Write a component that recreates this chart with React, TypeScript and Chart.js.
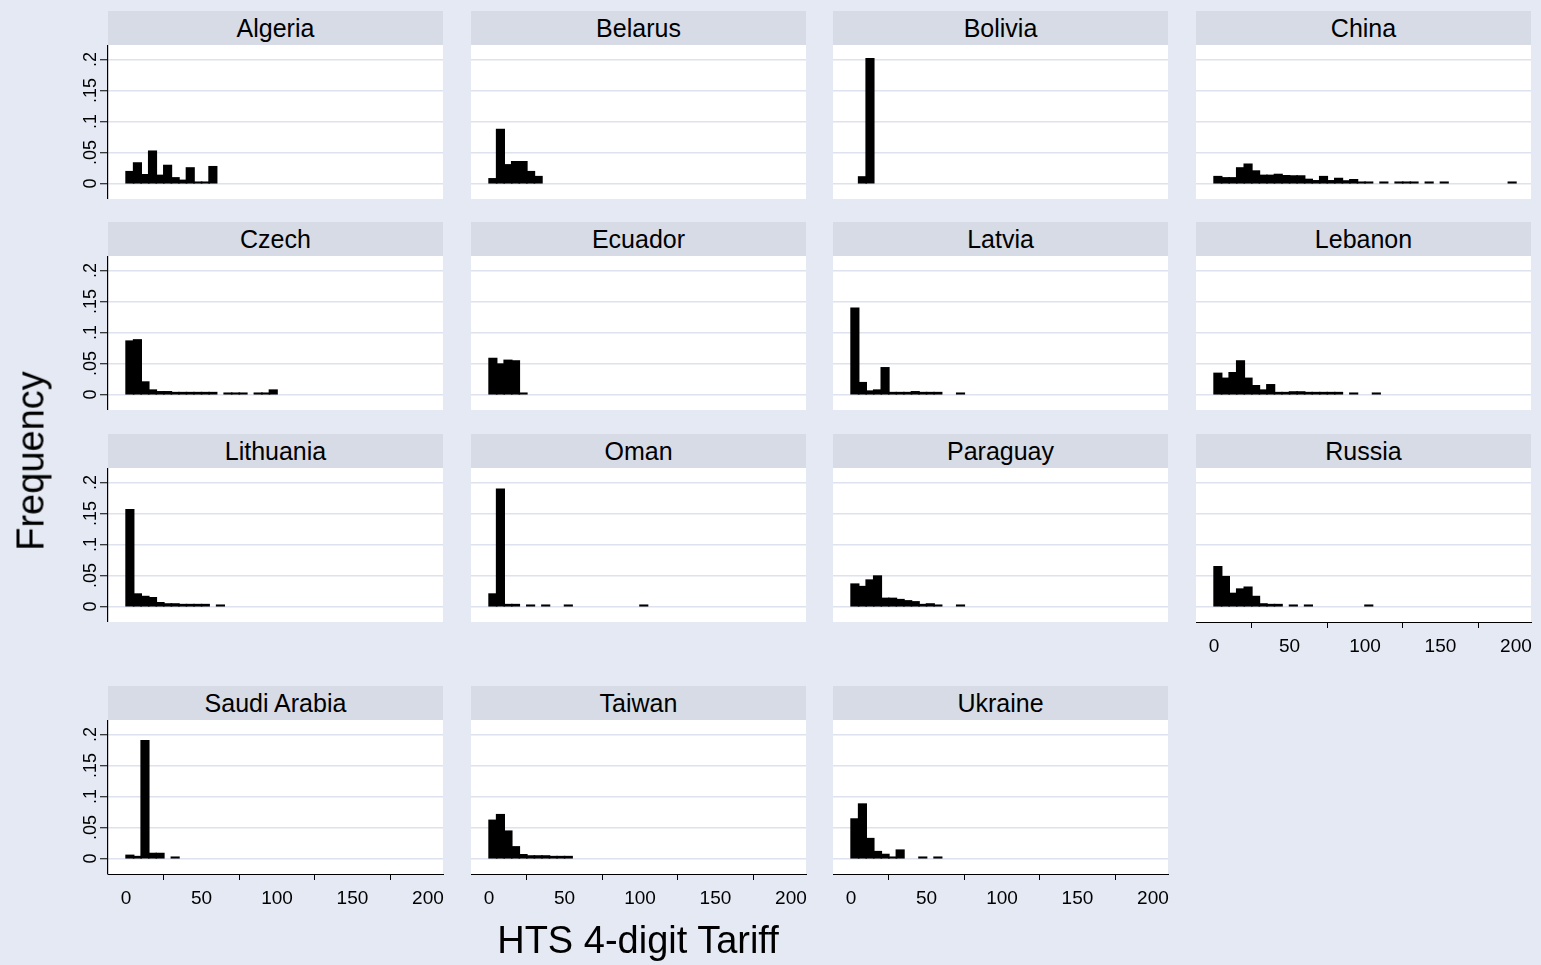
import React, { useEffect, useRef } from 'react';
import { Chart, registerables } from 'chart.js';

Chart.register(...registerables);

// ---------- data ----------
const binWidth = 5; // tariff bin width (HTS 4-digit tariff, percent)
const xTickValues = [0, 50, 100, 150, 200];
const xTickLabels = ['0', '50', '100', '150', '200'];
const yTickValues = [0, 0.05, 0.1, 0.15, 0.2];
const yTickLabels = ['0', '.05', '.1', '.15', '.2'];

const countries = [
  'Algeria', 'Belarus', 'Bolivia', 'China',
  'Czech', 'Ecuador', 'Latvia', 'Lebanon',
  'Lithuania', 'Oman', 'Paraguay', 'Russia',
  'Saudi Arabia', 'Taiwan', 'Ukraine',
];

// frequency per bin (bin i covers [5i, 5i+5)); 0 = empty bin
const algeria = [0.019, 0.033, 0.014, 0.052, 0.013, 0.029, 0.009, 0.005, 0.025, 0.002, 0.002, 0.027];
const belarus = [0.0075, 0.087, 0.03, 0.035, 0.035, 0.019, 0.011];
const bolivia = [0, 0.0105, 0.201];
const china = [
  0.011, 0.009, 0.009, 0.025, 0.031, 0.02, 0.013, 0.013, 0.0145, 0.0124,
  0.012, 0.012, 0.0065, 0.0043, 0.011, 0.0043, 0.008, 0.004, 0.006, 0.002,
  0.002, 0, 0.002, 0, 0.002, 0.002, 0.002, 0, 0.002, 0,
  0.002, 0, 0, 0, 0, 0, 0, 0, 0, 0.002,
];
const czech = [0.086, 0.088, 0.02, 0.007, 0.0043, 0.0043, 0.003, 0.003, 0.003, 0.003, 0.003, 0.003, 0, 0.002, 0.002, 0.002, 0, 0.002, 0.002, 0.007];
const ecuador = [0.058, 0.049, 0.055, 0.054, 0.002];
const latvia = [0.139, 0.019, 0.0054, 0.007, 0.043, 0.003, 0.003, 0.003, 0.0043, 0.003, 0.003, 0.003, 0, 0, 0.002];
const lebanon = [0.034, 0.026, 0.035, 0.054, 0.026, 0.014, 0.007, 0.0156, 0.003, 0.003, 0.004, 0.004, 0.003, 0.003, 0.003, 0.003, 0.003, 0, 0.002, 0, 0, 0.002];
const lithuania = [0.156, 0.02, 0.016, 0.014, 0.006, 0.004, 0.004, 0.003, 0.003, 0.003, 0.003, 0, 0.002];
const oman = [0.02, 0.189, 0.003, 0.003, 0, 0.002, 0, 0.002, 0, 0, 0.002, 0, 0, 0, 0, 0, 0, 0, 0, 0, 0.002];
const paraguay = [0.036, 0.032, 0.0425, 0.049, 0.013, 0.013, 0.011, 0.009, 0.0074, 0.003, 0.004, 0.002, 0, 0, 0.002];
const russia = [0.064, 0.048, 0.021, 0.028, 0.031, 0.016, 0.004, 0.003, 0.003, 0, 0.002, 0, 0.002, 0, 0, 0, 0, 0, 0, 0, 0.002];
const saudiArabia = [0.005, 0.003, 0.19, 0.008, 0.008, 0, 0.002];
const taiwan = [0.0615, 0.0706, 0.044, 0.0187, 0.006, 0.004, 0.004, 0.004, 0.003, 0.003, 0.003];
const ukraine = [0.0636, 0.0877, 0.032, 0.011, 0.0064, 0.002, 0.0134, 0, 0, 0.002, 0, 0.002];

const panelValues = [
  algeria, belarus, bolivia, china,
  czech, ecuador, latvia, lebanon,
  lithuania, oman, paraguay, russia,
  saudiArabia, taiwan, ukraine,
];

// ---------- layout / style ----------
const FONT = '"Liberation Sans", Arial, Helvetica, sans-serif';
const BG = '#e4e9f3';
const STRIP = '#d6dbe6';
const GRID = '#dde2ee';
const COL_X = [108, 471, 833, 1196];
const ROW_Y = [45, 256, 468, 720];
const PLOT_W = 335;
const PLOT_H = 154;
const STRIP_H = 34;
const Y_AXIS_W = 60;
const X_AXIS_H = 45;
const PAD_R = 22;
const X_MIN = -12;
const X_MAX = 210;
const Y_MIN = -0.025;
const Y_MAX = Y_MIN + PLOT_H / 620;

const plotBg = {
  id: 'plotBg',
  beforeDraw(chart: any) {
    const { ctx, chartArea: a } = chart;
    ctx.save();
    ctx.fillStyle = '#ffffff';
    ctx.fillRect(a.left, a.top, a.right - a.left, a.bottom - a.top);
    ctx.restore();
  },
};

function Panel({ title, values, col, row, showX, showY }: any) {
  const ref = useRef<HTMLCanvasElement>(null);
  const left = COL_X[col] - (showY ? Y_AXIS_W : 0);
  const top = ROW_Y[row];
  const width = PLOT_W + (showY ? Y_AXIS_W : 0) + PAD_R;
  const height = PLOT_H + (showX ? X_AXIS_H : 0);

  useEffect(() => {
    const chart = new Chart(ref.current as HTMLCanvasElement, {
      type: 'bar',
      data: {
        datasets: [
          {
            data: values.map((v: number, i: number) => ({ x: binWidth * (i + 0.5), y: v > 0 ? v : null })),
            backgroundColor: '#000000',
            borderWidth: 0,
            inflateAmount: 0.8,
            barPercentage: 1,
            categoryPercentage: 1,
          },
        ],
      },
      options: {
        animation: false,
        responsive: false,
        devicePixelRatio: 1,
        layout: { padding: { left: 0, right: PAD_R, top: 0, bottom: 0 } },
        plugins: { legend: { display: false }, tooltip: { enabled: false }, title: { display: false } },
        scales: {
          x: {
            type: 'linear',
            min: X_MIN,
            max: X_MAX,
            offset: false,
            display: showX,
            afterBuildTicks: (s: any) => {
              s.ticks = xTickValues.map((v) => ({ value: v }));
            },
            afterFit: (s: any) => {
              if (showX) s.height = X_AXIS_H;
              s.paddingLeft = 0;
              s.paddingRight = 0;
            },
            grid: { display: true, drawOnChartArea: false, drawTicks: true, tickLength: 6, tickColor: '#000', tickWidth: 1 },
            border: { display: true, color: '#000', width: 1 },
            ticks: {
              autoSkip: false,
              maxRotation: 0,
              minRotation: 0,
              padding: 7,
              color: '#000',
              font: { family: FONT, size: 19 },
              callback: (_v: any, i: number) => xTickLabels[i],
            },
          },
          y: {
            type: 'linear',
            min: Y_MIN,
            max: Y_MAX,
            position: 'left',
            afterBuildTicks: (s: any) => {
              s.ticks = yTickValues.map((v) => ({ value: v }));
            },
            afterFit: (s: any) => {
              s.width = showY ? Y_AXIS_W : 0;
              s.paddingTop = 0;
              s.paddingBottom = 0;
            },
            grid: { color: GRID, lineWidth: 1.5, drawTicks: showY, tickLength: 8, tickColor: '#000', tickWidth: 1 },
            border: { display: showY, color: '#000', width: 1.2 },
            ticks: {
              display: showY,
              minRotation: 90,
              maxRotation: 90,
              crossAlign: 'center',
              padding: -4,
              color: '#000',
              font: { family: FONT, size: 18 },
              callback: (_v: any, i: number) => yTickLabels[i],
            },
          },
        },
      } as any,
      plugins: [plotBg],
    } as any);
    return () => chart.destroy();
  }, []);

  return (
    <>
      <div
        style={{
          position: 'absolute',
          left: COL_X[col],
          top: top - STRIP_H,
          width: PLOT_W,
          height: STRIP_H,
          background: STRIP,
          color: '#000',
          fontFamily: FONT,
          fontSize: 25,
          lineHeight: STRIP_H + 'px',
          textAlign: 'center',
        }}
      >
        {title}
      </div>
      <canvas
        ref={ref}
        width={width}
        height={height}
        style={{ position: 'absolute', left, top, width, height }}
      />
    </>
  );
}

export default function App() {
  return (
    <div
      style={{
        position: 'absolute',
        left: 0,
        top: 0,
        width: 1541,
        height: 965,
        background: BG,
        overflow: 'hidden',
        fontFamily: FONT,
      }}
    >
      {countries.map((c, i) => {
        const col = i % 4;
        const row = Math.floor(i / 4);
        const showX = row === 3 || (row === 2 && col === 3);
        return <Panel key={c} title={c} values={panelValues[i]} col={col} row={row} showX={showX} showY={col === 0} />;
      })}
      <div
        style={{
          position: 'absolute',
          left: 31,
          top: 461,
          transform: 'translate(-50%, -50%) rotate(-90deg)',
          fontSize: 38,
          color: '#000',
          whiteSpace: 'nowrap',
        }}
      >
        Frequency
      </div>
      <div
        style={{
          position: 'absolute',
          left: 638,
          top: 940,
          transform: 'translate(-50%, -50%)',
          fontSize: 38,
          color: '#000',
          whiteSpace: 'nowrap',
        }}
      >
        HTS 4-digit Tariff
      </div>
    </div>
  );
}
